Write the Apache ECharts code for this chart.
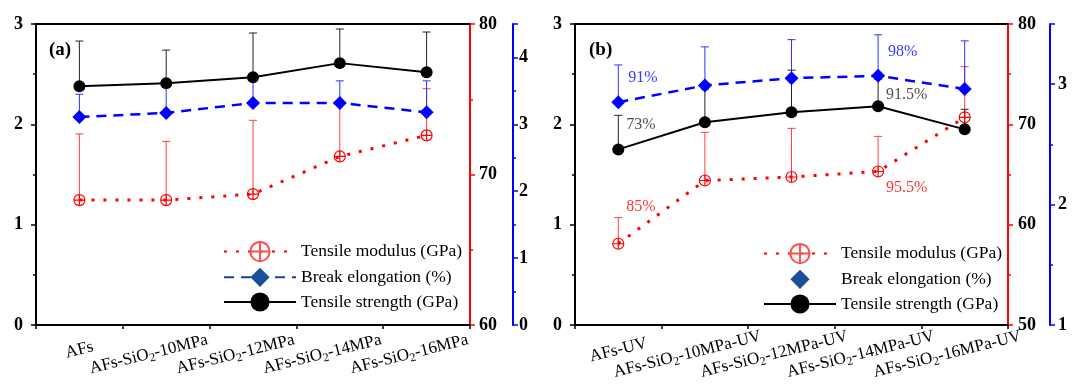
<!DOCTYPE html>
<html>
<head>
<meta charset="utf-8">
<script src="https://cdn.jsdelivr.net/npm/echarts@6/dist/echarts.min.js"></script>
<style>
html,body{margin:0;padding:0;background:#fff;}
#chart{width:1072px;height:391px;}
</style>
</head>
<body>
<div id="chart"></div>
<script>
// ---------- data ----------
const categoriesA = ['AFs', 'AFs-SiO2-10MPa', 'AFs-SiO2-12MPa', 'AFs-SiO2-14MPa', 'AFs-SiO2-16MPa'];
const categoriesB = ['AFs-UV', 'AFs-SiO2-10MPa-UV', 'AFs-SiO2-12MPa-UV', 'AFs-SiO2-14MPa-UV', 'AFs-SiO2-16MPa-UV'];

// panel (a)
const strengthA = [2.38, 2.41, 2.47, 2.61, 2.52];          // GPa, left axis
const strengthErrTopA = [2.83, 2.74, 2.91, 2.95, 2.92];
const elongationA = [3.11, 3.17, 3.32, 3.32, 3.18];        // %, blue axis
const elongationErrTopA = [3.45, 3.59, 3.72, 3.65, 3.65];
const modulusA = [68.3, 68.3, 68.7, 71.2, 72.6];           // GPa, red axis
const modulusErrTopA = [72.7, 72.2, 73.6, 74.9, 75.7];

// panel (b)
const strengthB = [1.75, 2.02, 2.12, 2.18, 1.95];
const strengthErrTopB = [2.09, 2.35, 2.54, 2.45, 2.15];
const elongationB = [2.85, 2.99, 3.05, 3.07, 2.96];
const elongationErrTopB = [3.16, 3.31, 3.37, 3.41, 3.36];
const modulusB = [58.1, 64.4, 64.75, 65.3, 70.7];
const modulusErrTopB = [60.7, 69.2, 69.6, 68.8, 75.75];

// annotations in panel (b) (category index, value on left axis, text)
const annotBlueCat = [0, 3];
const annotBlueVal = [2.465, 2.72];
const annotBlueText = ['91%', '98%'];
const annotBlackCat = [0, 3];
const annotBlackVal = [2.00, 2.29];
const annotBlackText = ['73%', '91.5%'];
const annotRedCat = [0, 3];
const annotRedVal = [1.175, 1.365];
const annotRedText = ['85%', '95.5%'];

// axis ticks
const leftAxisRange = [0, 3, 1];
const redAxisRangeA = [60, 80, 10];
const blueAxisRangeA = [0, 4.5, 1];
const redAxisRangeB = [50, 80, 10];
const blueAxisRangeB = [1, 3.5, 1];

const seriesNames = ['Tensile modulus (GPa)', 'Break elongation (%)', 'Tensile strength (GPa)'];

// ---------- styles ----------
const FONT = '"Liberation Serif","Times New Roman",serif';
const RED = '#ff0000', BLUE = '#0000ff', BLACK = '#000000';
const CIRCLE_PLUS = 'path://M10,0A10,10,0,1,1,-10,0A10,10,0,1,1,10,0ZM-10,0L10,0M0,-10L0,10';

function xLabelFmt(v) {
  const i = v.indexOf('SiO2');
  if (i < 0) return '{n|' + v + '}';
  return '{n|' + v.slice(0, i + 3) + '}{s|2}{e|' + v.slice(i + 4) + '}';
}
const xRich = {
  n: { fontFamily: FONT, fontSize: 17, color: '#000', lineHeight: 18 },
  s: { fontFamily: FONT, fontSize: 12, color: '#000', lineHeight: 12, padding: [9, 0, 0, 0] },
  e: { fontFamily: FONT, fontSize: 17, color: '#000', lineHeight: 18, padding: [0, 36, 0, 0] }
};

function xAxes(gi, cats) {
  return [
    { type: 'category', gridIndex: gi, data: cats, position: 'bottom', boundaryGap: true,
      axisLine: { lineStyle: { color: BLACK, width: 2 } },
      axisTick: { alignWithLabel: true, length: 6, lineStyle: { color: BLACK, width: 1.5 } },
      axisLabel: { interval: 0, rotate: 14, align: 'center', verticalAlign: 'middle', margin: 25,
        formatter: xLabelFmt, rich: xRich },
      splitLine: { show: false } },
    { type: 'category', gridIndex: gi, data: cats, position: 'bottom', boundaryGap: true,
      axisLine: { show: false },
      axisTick: { show: true, interval: 0, length: 4, lineStyle: { color: BLACK, width: 1.5 } },
      axisLabel: { show: false }, splitLine: { show: false } },
    { type: 'category', gridIndex: gi, data: cats, position: 'top',
      axisLine: { lineStyle: { color: BLACK, width: 2 } },
      axisTick: { show: false }, axisLabel: { show: false }, splitLine: { show: false } }
  ];
}

function yAxisDef(gi, range, pos, color, offset, margin) {
  return {
    type: 'value', gridIndex: gi, position: pos, offset: offset,
    min: range[0], max: range[1], interval: range[2],
    axisLine: { show: true, lineStyle: { color: color, width: 2 } },
    axisTick: { show: true, length: 5, lineStyle: { color: color, width: 1.5 } },
    minorTick: { show: true, splitNumber: 2, length: 3, lineStyle: { color: color, width: 1.5 } },
    axisLabel: { margin: margin, showMaxLabel: range[1] % range[2] === 0,
      formatter: function (v) { return '{v|' + v + '}'; },
      rich: { v: { color: '#000', fontFamily: FONT, fontWeight: 'bold', fontSize: 18 } } },
    splitLine: { show: false }
  };
}

function errSeries(name, xi, yi, vals, tops, color) {
  return {
    type: 'custom', name: name, xAxisIndex: xi, yAxisIndex: yi, z: 1, silent: true,
    data: vals.map((v, i) => [i, v, tops[i]]),
    encode: { x: 0, y: [1, 2] },
    renderItem: function (p, api) {
      const a = api.coord([api.value(0), api.value(1)]);
      const b = api.coord([api.value(0), api.value(2)]);
      return { type: 'group', children: [
        { type: 'line', shape: { x1: a[0], y1: a[1], x2: b[0], y2: b[1] }, style: { stroke: color, lineWidth: 1 } },
        { type: 'line', shape: { x1: b[0] - 4, y1: b[1], x2: b[0] + 4, y2: b[1] }, style: { stroke: color, lineWidth: 1 } }
      ] };
    }
  };
}

function panelSeries(xi, yLeft, yRed, yBlue, strength, sTop, elong, eTop, modulus, mTop) {
  return [
    errSeries('errM', xi, yRed, modulus, mTop, '#ff4040'),
    errSeries('errE', xi, yBlue, elong, eTop, '#3030ff'),
    errSeries('errS', xi, yLeft, strength, sTop, '#222'),
    { type: 'line', name: seriesNames[0], xAxisIndex: xi, yAxisIndex: yRed, z: 3, data: modulus,
      symbol: CIRCLE_PLUS, symbolSize: 11,
      itemStyle: { color: 'rgba(255,255,255,0)', borderColor: RED, borderWidth: 1.2 },
      lineStyle: { color: RED, width: 3, type: [3, 9] } },
    { type: 'line', name: seriesNames[1], xAxisIndex: xi, yAxisIndex: yBlue, z: 4, data: elong,
      symbol: 'diamond', symbolSize: 14,
      itemStyle: { color: BLUE },
      lineStyle: { color: BLUE, width: 2.5, type: [10, 7] } },
    { type: 'line', name: seriesNames[2], xAxisIndex: xi, yAxisIndex: yLeft, z: 5, data: strength,
      symbol: 'circle', symbolSize: 12,
      itemStyle: { color: BLACK },
      lineStyle: { color: BLACK, width: 2 } }
  ];
}

function annotSeries(xi, yi, cats, vals, texts, color, dist) {
  return {
    type: 'scatter', xAxisIndex: xi, yAxisIndex: yi, z: 6, silent: true, symbolSize: 0,
    data: cats.map((c, i) => ({ value: [c, vals[i]], name: texts[i] })),
    label: { show: true, position: 'right', distance: dist, formatter: '{b}',
      color: color, fontFamily: FONT, fontSize: 16 }
  };
}

function legendDef(left, top, hideElongLine) {
  return {
    orient: 'vertical', left: left, top: top, itemWidth: 72, itemHeight: 24, itemGap: 5.5,
    selectedMode: false,
    textStyle: { fontFamily: FONT, fontSize: 17.5, color: '#000' },
    data: [
      { name: seriesNames[0], itemStyle: { borderColor: '#ff5050' } },
      { name: seriesNames[1], itemStyle: { color: '#1a4f9a' },
        lineStyle: hideElongLine ? { opacity: 0 } : { color: '#1a3fa0' } },
      { name: seriesNames[2] }
    ]
  };
}

const option = {
  animation: false,
  backgroundColor: '#fff',
  title: [
    { text: '(a)', left: 44, top: 36, textStyle: { fontFamily: FONT, fontWeight: 'bold', fontSize: 19, color: '#000' } },
    { text: '(b)', left: 584, top: 36, textStyle: { fontFamily: FONT, fontWeight: 'bold', fontSize: 19, color: '#000' } }
  ],
  grid: [
    { left: 36, top: 24, width: 434, height: 301 },
    { left: 575, top: 24, width: 433, height: 301 }
  ],
  xAxis: [].concat(xAxes(0, categoriesA), xAxes(1, categoriesB)),
  yAxis: [
    yAxisDef(0, leftAxisRange, 'left', BLACK, 0, 13),
    yAxisDef(0, redAxisRangeA, 'right', RED, 0, 9),
    yAxisDef(0, blueAxisRangeA, 'right', BLUE, 43, 6),
    yAxisDef(1, leftAxisRange, 'left', BLACK, 0, 13),
    yAxisDef(1, redAxisRangeB, 'right', RED, 0, 10),
    yAxisDef(1, blueAxisRangeB, 'right', BLUE, 42, 8)
  ],
  legend: [legendDef(218, 236, false), legendDef(758, 238, true)],
  series: [].concat(
    panelSeries(0, 0, 1, 2, strengthA, strengthErrTopA, elongationA, elongationErrTopA, modulusA, modulusErrTopA),
    panelSeries(3, 3, 4, 5, strengthB, strengthErrTopB, elongationB, elongationErrTopB, modulusB, modulusErrTopB),
    [
      annotSeries(3, 3, annotBlueCat, annotBlueVal, annotBlueText, BLUE, 10),
      annotSeries(3, 3, annotBlackCat, annotBlackVal, annotBlackText, '#222', 8),
      annotSeries(3, 3, annotRedCat, annotRedVal, annotRedText, RED, 8)
    ]
  )
};

const chart = echarts.init(document.getElementById('chart'), null, { renderer: 'canvas' });
chart.setOption(option);
</script>
</body>
</html>
